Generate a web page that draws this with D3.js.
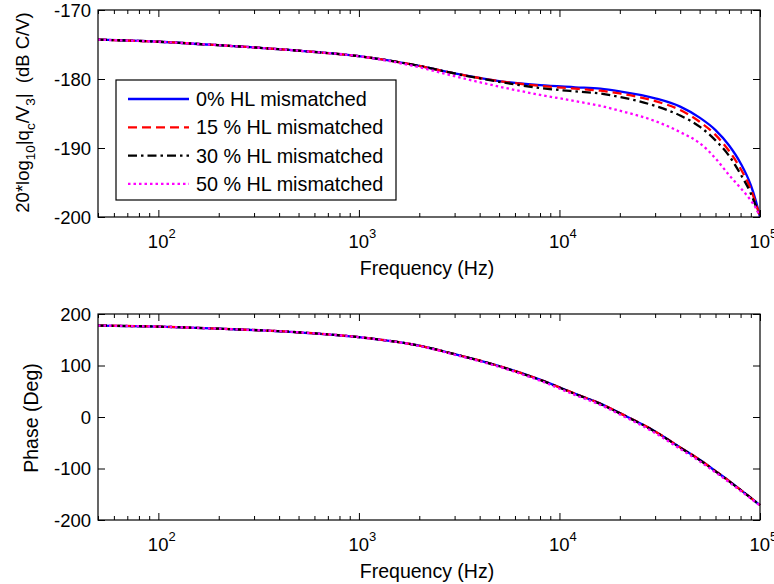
<!DOCTYPE html>
<html>
<head>
<meta charset="utf-8">
<script src="https://cdn.jsdelivr.net/npm/d3@7"></script>
<style>
  html, body { margin: 0; padding: 0; background: #fff; }
  svg { display: block; }
  text { font-family: "Liberation Sans", Arial, Helvetica, sans-serif; fill: #000; }
</style>
</head>
<body>
<svg id="chart" width="774" height="584"></svg>
<script>
// Frequency grid (Hz)
const freqs = [50, 100, 200, 500, 1000, 2000, 3000, 5000, 8000, 12000, 16000, 20000,
               30000, 40000, 50000, 60000, 70000, 80000, 90000, 95000, 100000];

// Magnitude 20*log10|qc/V3| (dB C/V) for each mismatch level
const mag0  = [-174.3, -174.6, -175.1, -175.9, -176.7, -178.1, -179.2, -180.3, -180.9, -181.2, -181.4, -181.8,
               -182.8, -184.0, -185.6, -187.4, -189.6, -192.2, -195.4, -197.5, -200];
const mag15 = [-174.3, -174.6, -175.1, -175.9, -176.7, -178.1, -179.2, -180.3, -181.0, -181.4, -181.7, -182.1,
               -183.2, -184.5, -186.2, -188.1, -190.4, -193.0, -196.0, -197.9, -200];
const mag30 = [-174.3, -174.6, -175.1, -175.9, -176.7, -178.1, -179.2, -180.4, -181.3, -181.8, -182.1, -182.6,
               -183.9, -185.3, -186.9, -188.9, -191.1, -193.8, -196.6, -198.3, -200];
const mag50 = [-174.3, -174.6, -175.1, -175.9, -176.7, -178.3, -179.6, -181.1, -182.3, -183.2, -183.9, -184.6,
               -186.1, -187.7, -189.3, -191.5, -193.9, -195.8, -197.6, -198.6, -200];

// Phase (Deg)
const ph0  = [177.5, 175.5, 171.5, 164.5, 155, 138.5, 122, 99, 72.5, 45, 26, 7.5,
              -28, -59, -83, -105, -124, -141.5, -157, -164.3, -171];
const ph15 = [177.5, 175.5, 171.5, 164.5, 155, 138.5, 122, 99, 72.5, 45, 26, 7.5,
              -28, -59, -83, -105, -124, -141.5, -157, -164.3, -171];
const ph30 = [177.5, 175.5, 171.5, 164.5, 155, 138.5, 122, 98.6, 72, 44.5, 25.5, 7,
              -28.5, -59.5, -83.5, -105.5, -124.4, -141.8, -157.2, -164.5, -171];
const ph50 = [177.5, 175.5, 171.5, 164.5, 155, 138, 121, 97.5, 70.5, 42.5, 23.5, 5,
              -31, -62, -86, -107.5, -126.5, -143.2, -158.3, -165.3, -172];

const seriesNames = ["0% HL mismatched", "15 % HL mismatched", "30 % HL mismatched", "50 % HL mismatched"];
const seriesColors = ["#0000ff", "#ff0000", "#000000", "#ff00ff"];
const seriesDash = [null, "9,5", "9,4,2.5,4", "2.5,3"];

const xMajor = [100, 1000, 10000, 100000];
const xMajorExp = [2, 3, 4, 5];
const magTicks = [-200, -190, -180, -170];
const phaseTicks = [-200, -100, 0, 100, 200];

const svg = d3.select("#chart");
const L = 98, R = 760;
const x = d3.scaleLog().domain([50, 100000]).range([L, R]);

// minor ticks 2..9 in each decade within domain
const xMinor = [];
for (let e = 1; e <= 4; e++) {
  for (let m = 2; m <= 9; m++) {
    const v = m * Math.pow(10, e);
    if (v >= 50 && v <= 100000) xMinor.push(v);
  }
}

function panel(y0, y1, yDomain, yTicks, series, yLabelFn, clipId) {
  const y = d3.scaleLinear().domain(yDomain).range([y1, y0]);
  const g = svg.append("g");

  g.append("rect").attr("x", L).attr("y", y0).attr("width", R - L).attr("height", y1 - y0)
    .attr("fill", "#fff");

  svg.append("clipPath").attr("id", clipId).append("rect")
    .attr("x", L).attr("y", y0 - 2).attr("width", R - L + 1).attr("height", y1 - y0 + 4);

  const line = d3.line().x(d => x(d[0])).y(d => y(d[1])).curve(d3.curveMonotoneX);
  const lines = g.append("g").attr("clip-path", `url(#${clipId})`);
  series.forEach((vals, i) => {
    lines.append("path")
      .datum(freqs.map((f, k) => [f, vals[k]]))
      .attr("d", line)
      .attr("fill", "none")
      .attr("stroke", seriesColors[i])
      .attr("stroke-width", 2.3)
      .attr("stroke-dasharray", seriesDash[i])
      .attr("stroke-linejoin", "round");
  });

  // inward ticks on all four sides
  const axStyle = sel => {
    sel.select(".domain").remove();
    sel.selectAll(".tick line").attr("stroke", "#000").attr("stroke-width", 1);
    sel.selectAll("text").remove();
  };
  g.append("g").attr("transform", `translate(0,${y1})`)
    .call(d3.axisBottom(x).tickValues(xMajor).tickSize(-7).tickFormat("")).call(axStyle);
  g.append("g").attr("transform", `translate(0,${y1})`)
    .call(d3.axisBottom(x).tickValues(xMinor).tickSize(-4).tickFormat("")).call(axStyle);
  g.append("g").attr("transform", `translate(0,${y0})`)
    .call(d3.axisTop(x).tickValues(xMajor).tickSize(-7).tickFormat("")).call(axStyle);
  g.append("g").attr("transform", `translate(0,${y0})`)
    .call(d3.axisTop(x).tickValues(xMinor).tickSize(-4).tickFormat("")).call(axStyle);
  g.append("g").attr("transform", `translate(${L},0)`)
    .call(d3.axisLeft(y).tickValues(yTicks).tickSize(-7).tickFormat("")).call(axStyle);
  g.append("g").attr("transform", `translate(${R},0)`)
    .call(d3.axisRight(y).tickValues(yTicks).tickSize(-7).tickFormat("")).call(axStyle);

  // frame
  g.append("rect").attr("x", L).attr("y", y0).attr("width", R - L).attr("height", y1 - y0)
    .attr("fill", "none").attr("stroke", "#000").attr("stroke-width", 1.2);

  // y tick labels
  g.selectAll(".ylab").data(yTicks).enter().append("text")
    .attr("x", L - 7).attr("y", d => y(d) + 6.8)
    .attr("text-anchor", "end").attr("font-size", 18.5)
    .text(d => String(d));

  // x tick labels 10^n
  xMajor.forEach((v, i) => {
    const t = g.append("text").attr("x", x(v) - 10.5).attr("y", y1 + 31)
      .attr("font-size", 18.5);
    t.append("tspan").text("10");
    t.append("tspan").attr("dy", -10).attr("font-size", 13).text(xMajorExp[i]);
  });

  // x axis label
  g.append("text").attr("x", (L + R) / 2 - 2).attr("y", y1 + 58)
    .attr("text-anchor", "middle").attr("font-size", 19.5).text("Frequency (Hz)");

  yLabelFn(g, y0, y1);
  return { g, y };
}

// upper panel: magnitude
panel(10, 217, [-200, -170], magTicks, [mag0, mag15, mag30, mag50], (g, t, b) => {
  const lab = g.append("text")
    .attr("transform", `translate(29,${(t + b) / 2 - 1}) rotate(-90)`)
    .attr("text-anchor", "middle").attr("font-size", 18.5);
  lab.append("tspan").text("20*log");
  lab.append("tspan").attr("dy", 6).attr("font-size", 13.5).text("10");
  lab.append("tspan").attr("dy", -6).text("|q");
  lab.append("tspan").attr("dy", 6).attr("font-size", 13.5).text("c");
  lab.append("tspan").attr("dy", -6).text("/V");
  lab.append("tspan").attr("dy", 6).attr("font-size", 13.5).text("3");
  lab.append("tspan").attr("dy", -6).text("|\u00a0\u00a0(dB C/V)");
}, "clipMag");

// lower panel: phase
panel(314, 520, [-200, 200], phaseTicks, [ph0, ph15, ph30, ph50], (g, t, b) => {
  g.append("text")
    .attr("transform", `translate(38,${(t + b) / 2 + 1}) rotate(-90)`)
    .attr("text-anchor", "middle").attr("font-size", 19.5).text("Phase (Deg)");
}, "clipPhase");

// legend
const lg = svg.append("g");
lg.append("rect").attr("x", 116).attr("y", 80).attr("width", 280).attr("height", 120)
  .attr("fill", "#fff").attr("stroke", "#000").attr("stroke-width", 1.2);
seriesNames.forEach((name, i) => {
  const yy = 99 + i * 28.3;
  lg.append("line").attr("x1", 128).attr("x2", 189).attr("y1", yy).attr("y2", yy)
    .attr("stroke", seriesColors[i]).attr("stroke-width", 2.3)
    .attr("stroke-dasharray", seriesDash[i]);
  lg.append("text").attr("x", 196).attr("y", yy + 7).attr("font-size", 19.8).text(name);
});
</script>
</body>
</html>
